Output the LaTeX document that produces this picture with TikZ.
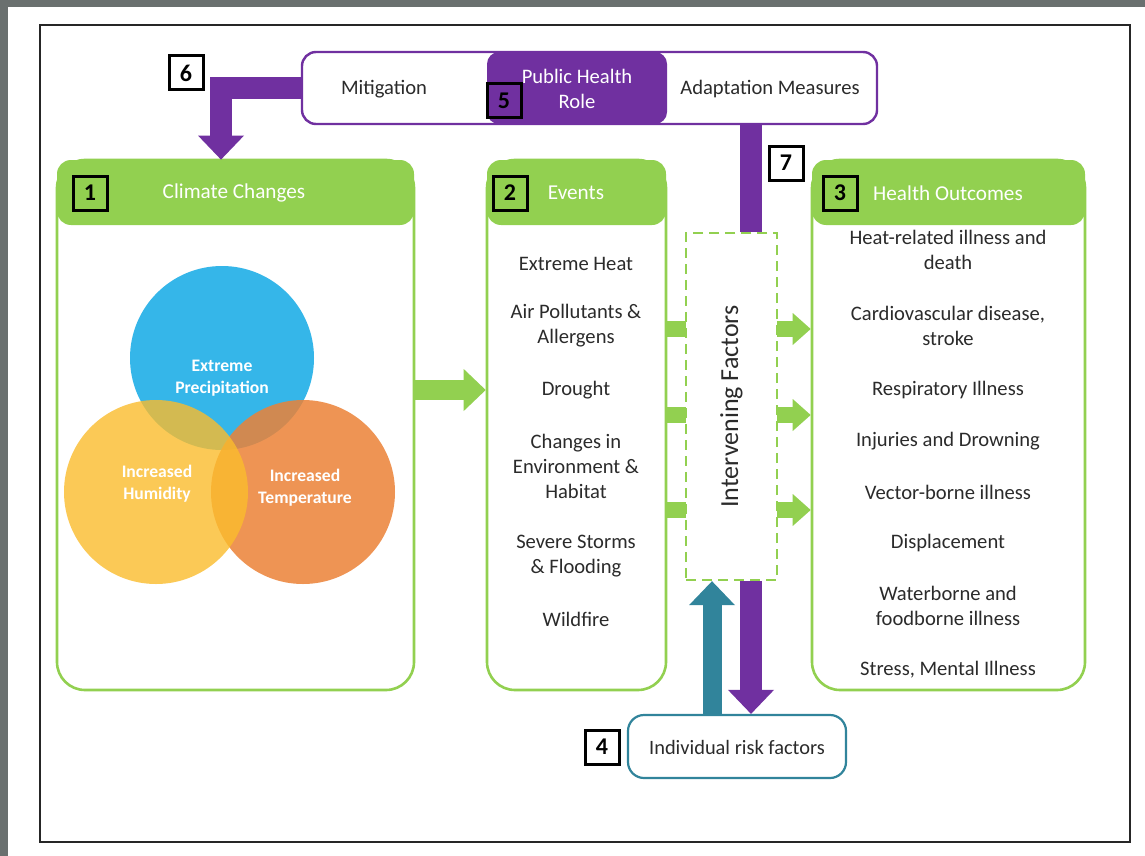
\documentclass[tikz,border=0pt]{standalone}
\usepackage{fontspec}
\setmainfont{Carlito}
\usepackage{tikz}
\usetikzlibrary{arrows.meta,shapes}
\usetikzlibrary{positioning}
\usetikzlibrary{fit}
\definecolor{leaf}{HTML}{92D050}
\definecolor{plum}{HTML}{7030A0}
\definecolor{riskteal}{HTML}{31849B}
\definecolor{sky}{HTML}{35B6E9}
\definecolor{sun}{HTML}{FBBC2C}
\definecolor{ember}{HTML}{EC8237}
\definecolor{ink}{HTML}{2B2B2B}
\definecolor{slate}{HTML}{6A706F}
\tikzset{
    panel/.style={draw=leaf, line width=1.3pt, rounded corners=14pt, fill=white, inner sep=0pt},
    panelhead/.style={fill=leaf, rounded corners=7pt, inner sep=0pt},
    headtext/.style={text=white, font=\fontsize{10.6}{12}\selectfont},
    numbox/.style={draw=black, line width=1.5pt, minimum size=17pt, inner sep=0pt,
        font=\fontsize{12}{14}\selectfont\bfseries},
    item/.style={align=center, text=ink, font=\fontsize{10.3}{12.5}\selectfont},
    venn/.style={align=center, text=white, font=\fontsize{8.8}{11}\selectfont\bfseries},
    greenarrow/.style={draw=leaf, line width=10pt, -{Triangle[length=11pt,width=21pt,line width=0pt]}},
    stubarrow/.style={draw=leaf, line width=8pt, -{Triangle[length=9pt,width=16pt,line width=0pt]}},
    plumarrow/.style={draw=plum, line width=11pt, line join=miter, -{Triangle[length=12pt,width=23pt,line width=0pt]}},
    tealarrow/.style={draw=riskteal, line width=9.5pt, -{Triangle[length=12pt,width=23pt,line width=0pt]}},
}

\begin{document}
\begin{tikzpicture}[x=0.5pt, y=-0.5pt]
	\fill[slate] (0,0) rectangle (1145,856);
	\fill[white] (8,7) rectangle (1145,856);
	\draw[line width=1.3pt, black!85] (40,25) rectangle (1130,842);

	% public health role bar
	\node[fit={(302,52) (877,124)}, inner sep=0pt, draw=plum, line width=1.2pt, rounded corners=7pt] (role) {};
	\node[fit={(487,52) (667,124)}, inner sep=0pt, fill=plum, rounded corners=6pt] (ph) {};
	\node[item] (mit) at (384,89) {Mitigation};
	\node[item, text=white] (phtxt) at (577,89) {Public Health\\Role};
	\node[item] (adapt) at (770,89) {Adaptation Measures};

	% the three panels
	\node[panel, fit={(57,160) (414,690)}] (cc) {};
	\node[panelhead, fit={(57,160) (414,225)}] (cchead) {};
	\node[headtext] (cctxt) at (234,193) {Climate Changes};
	\node[panel, fit={(487,160) (666,690)}] (ev) {};
	\node[panelhead, fit={(487,160) (666,225)}] (evhead) {};
	\node[headtext] (evtxt) at (576,193) {Events};
	\node[panel, fit={(812,160) (1085,690)}] (ho) {};
	\node[panelhead, fit={(812,160) (1085,225)}] (hohead) {};
	\node[headtext] (hotxt) at (948,193) {Health Outcomes};

	\fill[sky] (222,358) circle (46pt);
	\fill[ember, fill opacity=0.85] (303,492) circle (46pt);
	\fill[sun, fill opacity=0.8] (156,492) circle (46pt);
	\node[venn] (rain) at (222,378) {Extreme\\Precipitation};
	\node[venn] (humid) at (157,484) {Increased\\Humidity};
	\node[venn] (temp) at (305,488) {Increased\\Temperature};

	\node[item] (e1) at (576,264) {Extreme Heat};
	\node[item] (e2) at (576,326) {Air Pollutants \&\\Allergens};
	\node[item] (e3) at (576,390) {Drought};
	\node[item] (e4) at (576,466) {Changes in\\Environment \&\\Habitat};
	\node[item] (e5) at (576,556) {Severe Storms\\\& Flooding};
	\node[item] (e6) at (576,619) {Wildfire};

	\node[item] (h1) at (948,250) {Heat-related illness and\\death};
	\node[item] (h2) at (948,326) {Cardiovascular disease,\\stroke};
	\node[item] (h3) at (948,390) {Respiratory Illness};
	\node[item] (h4) at (948,441) {Injuries and Drowning};
	\node[item] (h5) at (948,492) {Vector-borne illness};
	\node[item] (h6) at (948,543) {Displacement};
	\node[item] (h7) at (948,606) {Waterborne and\\foodborne illness};
	\node[item] (h8) at (948,670) {Stress, Mental Illness};

	\draw[greenarrow] (cc.east |- 0,390) -- (ev.west |- 0,390);
	\foreach \y in {329,415,510}
		\draw[stubarrow] (ev.east |- 0,\y) -- (ho.west |- 0,\y);

	\node[fit={(686,233) (777,580)}, inner sep=0pt, draw=leaf, dash pattern=on 5pt off 3pt,
		fill=white, line width=1.2pt] (inter) {};
	\node[rotate=90, text=ink, font=\fontsize{13}{15}\selectfont] (intertxt) at (inter) {Intervening Factors};

	\node[fit={(628,715) (846,778)}, inner sep=0pt, draw=riskteal, line width=1.1pt, rounded corners=8pt] (risk) {};
	\node[text=ink, font=\fontsize{10.2}{12}\selectfont] (risktxt) at (737,747) {Individual risk factors};

	% connectors of the public health role
	\draw[plumarrow] (role.west) -| (cchead.north -| 221,0);
	\draw[plum, line width=11pt] (role.south -| 751,0) -- (inter.north -| 751,0);
	\draw[plumarrow] (inter.south -| 751,0) -- (risk.north -| 751,0);
	\draw[tealarrow] (risk.north -| 712,0) -- (inter.south -| 712,0);

	\node[numbox] (n1) at (90,193) {1};
	\node[numbox] (n2) at (510,193) {2};
	\node[numbox] (n3) at (840,193) {3};
	\node[numbox, fill=white] (n4) at (602,747) {4};
	\node[numbox, text=black] (n5) at (504,101) {5};
	\node[numbox, fill=white] (n6) at (186,73) {6};
	\node[numbox, fill=white] (n7) at (786,163) {7};
\end{tikzpicture}
\end{document}
